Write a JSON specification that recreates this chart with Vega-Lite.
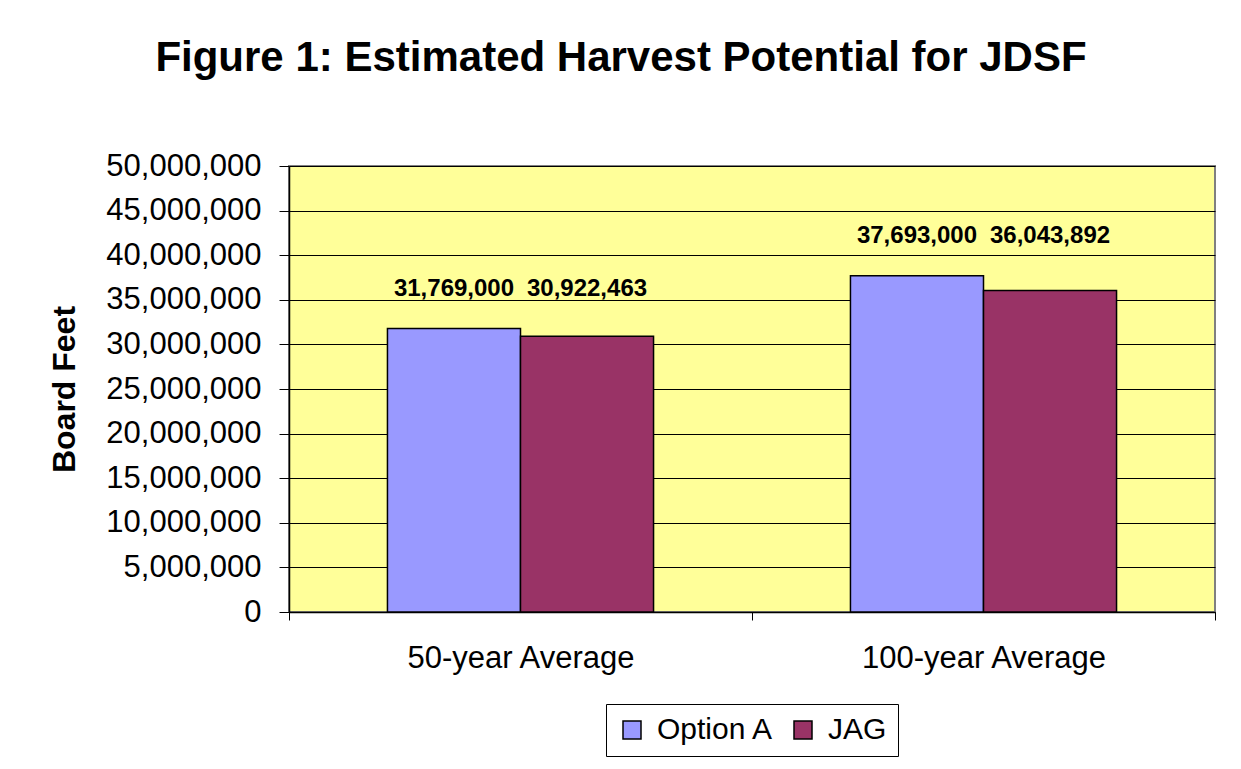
{
  "$schema": "https://vega.github.io/schema/vega-lite/v6.json",
  "width": 926,
  "height": 446,
  "autosize": "none",
  "padding": {"left": 289, "top": 166, "right": 26, "bottom": 157},
  "background": "white",
  "title": {"text": "Figure 1: Estimated Harvest Potential for JDSF", "fontSize": 42, "fontWeight": "bold", "color": "black", "anchor": "middle", "dx": -131, "offset": 50, "baseline": "middle"},
  "config": {
    "font": "Liberation Sans",
    "view": {"fill": "#FFFF99", "stroke": "#808080", "strokeWidth": 2},
    "legend": {"layout": {"bottom": {"anchor": "middle"}}}
  },
  "data": {"values": [
    {"period": "50-year Average", "series": "Option A", "value": 31769000},
    {"period": "50-year Average", "series": "JAG", "value": 30922463},
    {"period": "100-year Average", "series": "Option A", "value": 37693000},
    {"period": "100-year Average", "series": "JAG", "value": 36043892}
  ]},
  "encoding": {
    "x": {"field": "period", "type": "nominal", "sort": ["50-year Average", "100-year Average"],
      "scale": {"paddingInner": 0, "paddingOuter": 0},
      "axis": {"title": null, "labelAngle": 0, "labelFontSize": 31, "labelLimit": 0, "labelColor": "black", "labelPadding": 23, "tickBand": "extent", "tickSize": 8, "tickColor": "black", "domainColor": "black", "domainWidth": 1.5, "grid": false}},
    "xOffset": {"field": "series", "type": "nominal", "sort": ["Option A", "JAG"], "scale": {"paddingInner": 0, "paddingOuter": 0.74}}
  },
  "layer": [
    {
      "mark": {"type": "bar", "stroke": "black", "strokeWidth": 1.5},
      "encoding": {
        "y": {"field": "value", "type": "quantitative", "scale": {"domain": [0, 50000000], "nice": false},
          "axis": {"title": "Board Feet", "titleFontSize": 32, "titleFontWeight": "bold", "titleColor": "black", "titlePadding": 24,
            "values": [0, 5000000, 10000000, 15000000, 20000000, 25000000, 30000000, 35000000, 40000000, 45000000, 50000000],
            "format": ",d", "labelFontSize": 31, "labelColor": "black", "labelPadding": 18, "tickSize": 10, "tickColor": "black",
            "domainColor": "black", "domainWidth": 1.5, "grid": true, "gridColor": "black", "gridWidth": 1}},
        "color": {"field": "series", "type": "nominal", "sort": ["Option A", "JAG"],
          "scale": {"domain": ["Option A", "JAG"], "range": ["#9999FF", "#993366"]},
          "legend": {"title": null, "orient": "bottom", "direction": "horizontal", "offset": 31, "symbolType": "square", "symbolSize": 324,
            "symbolStrokeColor": "black", "symbolStrokeWidth": 1.5, "symbolOpacity": 1, "labelFontSize": 30, "labelColor": "black", "labelOffset": 10,
            "columnPadding": 14, "strokeColor": "black", "fillColor": "white", "padding": 11}}
      }
    },
    {
      "transform": [{"joinaggregate": [{"op": "max", "field": "value", "as": "groupMax"}], "groupby": ["period"]}],
      "mark": {"type": "text", "fontSize": 24, "fontWeight": "bold", "color": "black", "baseline": "middle", "dy": -40},
      "encoding": {
        "y": {"field": "groupMax", "type": "quantitative"},
        "text": {"field": "value", "type": "quantitative", "format": ",d"}
      }
    }
  ]
}
